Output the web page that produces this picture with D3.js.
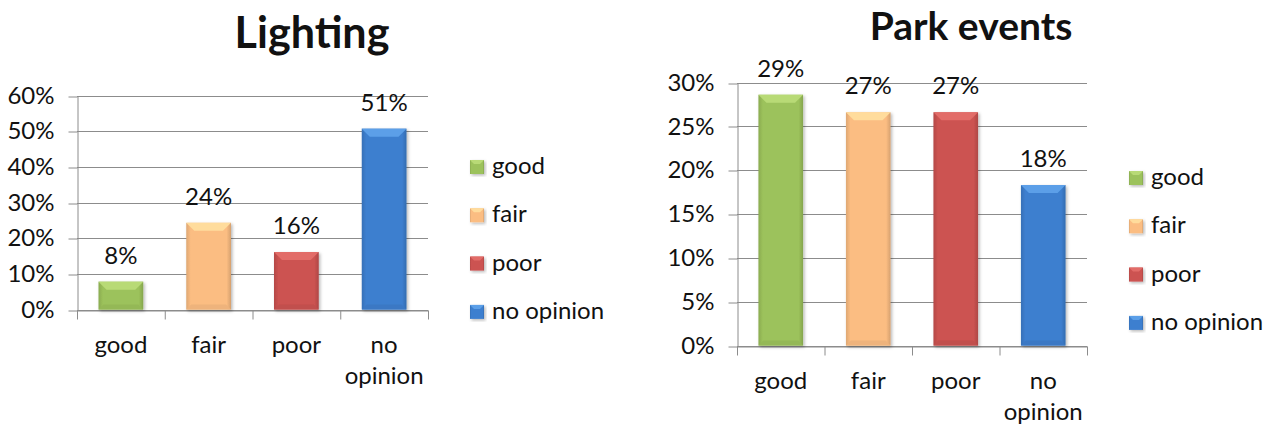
<!DOCTYPE html>
<html>
<head>
<meta charset="utf-8">
<script src="https://cdn.jsdelivr.net/npm/d3@7"></script>
<style>
  html, body { margin: 0; padding: 0; background: #ffffff; }
  svg { display: block; }
  text { font-family: Lato, "Open Sans", sans-serif; fill: #111; }
</style>
</head>
<body>
<svg id="chart" width="1278" height="428"></svg>
<script>
// ---------------- data ----------------
const categories = ["good", "fair", "poor", "no opinion"];
const lightingValues = [0.078, 0.243, 0.161, 0.507];
const parkValues = [0.286, 0.266, 0.266, 0.183];
const lightingTicks = [0, 0.1, 0.2, 0.3, 0.4, 0.5, 0.6];
const parkTicks = [0, 0.05, 0.10, 0.15, 0.20, 0.25, 0.30];
const titles = ["Lighting", "Park events"];
const colors = ["#9cc25b", "#fbbd82", "#cc5351", "#3d7fcf"];
const topColors = ["#b8da76", "#ffdc9c", "#e26c68", "#5b9fe8"];

// ---------------- layout ----------------
const svg = d3.select("#chart");
const fmt = d3.format(".0%");

const defs = svg.append("defs");
defs.append("filter").attr("id", "shadow")
  .attr("x", "-20%").attr("y", "-20%").attr("width", "140%").attr("height", "140%")
  .append("feDropShadow")
  .attr("dx", 1.5).attr("dy", 1.5).attr("stdDeviation", 1.5)
  .attr("flood-color", "#000").attr("flood-opacity", 0.28);

categories.forEach((c, i) => {
  const g = defs.append("linearGradient").attr("id", "grad" + i)
    .attr("x1", "0").attr("x2", "1").attr("y1", "0").attr("y2", "0");
  const base = d3.color(colors[i]);
  g.append("stop").attr("offset", "0").attr("stop-color", base.darker(0.35));
  g.append("stop").attr("offset", "0.1").attr("stop-color", base);
  g.append("stop").attr("offset", "0.9").attr("stop-color", base);
  g.append("stop").attr("offset", "1").attr("stop-color", base.darker(0.45));
});

const charts = [
  { title: titles[0], values: lightingValues, ticks: lightingTicks,
    x0: 77, x1: 428, yTop: 95.5, yBot: 309.5,
    titleX: 312, titleY: 48, titleW: 155,
    legendX: 470, legendY: 167 },
  { title: titles[1], values: parkValues, ticks: parkTicks,
    x0: 737, x1: 1087, yTop: 82.5, yBot: 345.5,
    titleX: 971, titleY: 40, titleW: 224,
    legendX: 1129, legendY: 178 }
];

const fontSize = 24;

charts.forEach(ch => {
  const g = svg.append("g");
  const y = d3.scaleLinear()
    .domain([0, d3.max(ch.ticks)])
    .range([ch.yBot, ch.yTop]);
  const x = d3.scaleBand()
    .domain(categories)
    .range([ch.x0, ch.x1])
    .paddingInner(0.49).paddingOuter(0.245);
  const xi = d3.scaleLinear().domain([0, categories.length]).range([ch.x0, ch.x1]);

  // gridlines
  g.append("g").selectAll("line")
    .data(ch.ticks)
    .join("line")
    .attr("x1", ch.x0).attr("x2", ch.x1)
    .attr("y1", d => Math.round(y(d)) + 0.5).attr("y2", d => Math.round(y(d)) + 0.5)
    .attr("stroke", "#8c8c8c").attr("stroke-width", 1);

  // y axis
  const yAxis = g.append("g")
    .attr("transform", `translate(${ch.x0 + 0.5},0)`)
    .call(d3.axisLeft(y).tickValues(ch.ticks).tickFormat(fmt)
      .tickSizeInner(9).tickSizeOuter(0).tickPadding(14));
  yAxis.select(".domain").attr("stroke", "#8c8c8c");
  yAxis.selectAll(".tick line").attr("stroke", "#8c8c8c")
    .attr("transform", d => `translate(0,${Math.round(y(d)) + 0.5 - y(d)})`);
  yAxis.selectAll(".tick text")
    .style("font-family", "Lato, 'Open Sans', sans-serif")
    .style("font-size", fontSize + "px").attr("fill", "#111");

  // x axis (category boundary ticks)
  const xAxis = g.append("g")
    .attr("transform", `translate(0,${Math.round(ch.yBot) + 0.5})`)
    .call(d3.axisBottom(xi).tickValues(d3.range(categories.length + 1))
      .tickFormat("").tickSizeInner(9).tickSizeOuter(0));
  xAxis.select(".domain").attr("stroke", "#8c8c8c");
  xAxis.selectAll(".tick line").attr("stroke", "#8c8c8c");

  // category labels
  g.append("g").selectAll("text")
    .data(categories)
    .join("text")
    .attr("x", d => x(d) + x.bandwidth() / 2)
    .attr("y", ch.yBot + 43.5)
    .attr("text-anchor", "middle")
    .style("font-size", fontSize + "px")
    .each(function (d) {
      const words = d.split(" ");
      const t = d3.select(this);
      words.forEach((w, k) => {
        t.append("tspan")
          .attr("x", x(d) + x.bandwidth() / 2)
          .attr("dy", k === 0 ? 0 : 31)
          .text(w);
      });
    });

  // bars
  const bw = x.bandwidth();
  const bars = g.append("g").selectAll("g")
    .data(ch.values.map((v, i) => ({ v, i, c: categories[i] })))
    .join("g")
    .attr("filter", "url(#shadow)");
  bars.append("rect")
    .attr("x", d => x(d.c))
    .attr("y", d => y(d.v))
    .attr("width", bw)
    .attr("height", d => y(0) - y(d.v))
    .attr("fill", d => `url(#grad${d.i})`);
  // top bevel
  bars.append("path")
    .attr("d", d => {
      const x0 = x(d.c), x1 = x0 + bw, t = y(d.v), b = Math.min(8, (y(0) - y(d.v)) / 2);
      return `M${x0},${t}L${x1},${t}L${x1 - b},${t + b}L${x0 + b},${t + b}Z`;
    })
    .attr("fill", d => topColors[d.i]);
  // bottom bevel
  bars.append("path")
    .attr("d", d => {
      const x0 = x(d.c), x1 = x0 + bw, bt = y(0), b = Math.min(5, (y(0) - y(d.v)) / 2);
      return `M${x0},${bt}L${x1},${bt}L${x1 - b},${bt - b}L${x0 + b},${bt - b}Z`;
    })
    .attr("fill", d => d3.color(colors[d.i]).darker(0.15));

  // value labels
  g.append("g").selectAll("text")
    .data(ch.values)
    .join("text")
    .attr("x", (d, i) => x(categories[i]) + bw / 2)
    .attr("y", d => y(d) - 18)
    .attr("text-anchor", "middle")
    .style("font-size", fontSize + "px")
    .text(d => fmt(d));

  // title (sized to the reference width, kept inside the top edge)
  const title = g.append("text")
    .attr("x", ch.titleX).attr("y", ch.titleY)
    .attr("text-anchor", "middle")
    .style("font-weight", "bold")
    .style("font-size", "40px")
    .attr("fill", "#000")
    .text(ch.title);
  const w = title.node().getComputedTextLength();
  const size = Math.min(40 * ch.titleW / w, (ch.titleY - 1) / 1.0);
  title.style("font-size", size.toFixed(1) + "px");

  // legend
  const leg = g.append("g").selectAll("g")
    .data(categories)
    .join("g")
    .attr("transform", (d, i) => `translate(${ch.legendX},${ch.legendY + i * 48.3})`);
  leg.append("rect")
    .attr("x", 0).attr("y", -7).attr("width", 14).attr("height", 14)
    .attr("fill", (d, i) => `url(#grad${i})`)
    .attr("filter", "url(#shadow)");
  leg.append("path")
    .attr("d", "M0,-7L14,-7L10,-3L4,-3Z")
    .attr("fill", (d, i) => topColors[i]);
  leg.append("text")
    .attr("x", 22).attr("y", 7)
    .style("font-size", fontSize + "px")
    .text(d => d);
});
</script>
</body>
</html>
